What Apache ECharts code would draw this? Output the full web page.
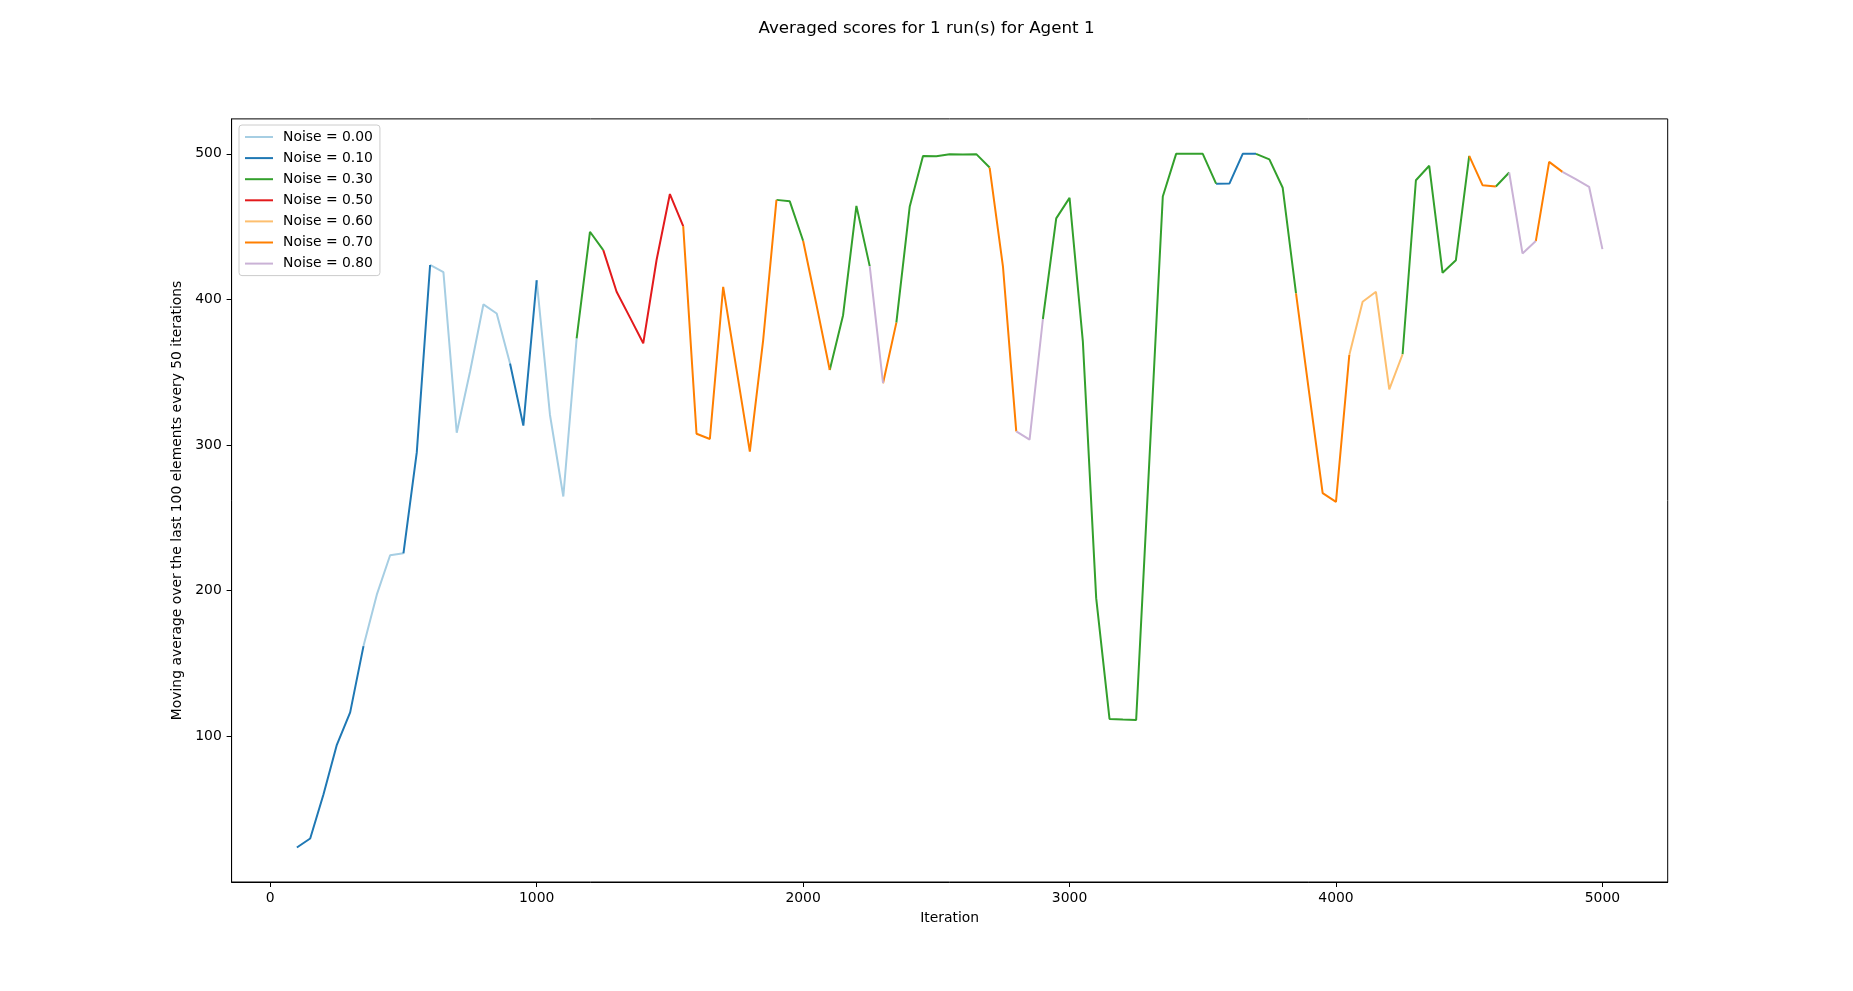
<!DOCTYPE html>
<html>
    <head>
        <meta charset="utf-8">
        <title>Averaged scores</title>
        <script src="https://cdn.jsdelivr.net/npm/echarts@6.0.0/dist/echarts.min.js"></script>
        <style>
            html, body { margin: 0; padding: 0; background: #fff; }
            #chart { width: 1853px; height: 991px; }
        </style>
    </head>
    <body>
        <div id="chart"></div>
        <script>
            // one point every 50 iterations
            var iterations = [100, 150, 200, 250, 300, 350, 400, 450, 500, 550,
                600, 650, 700, 750, 800, 850, 900, 950, 1000, 1050,
                1100, 1150, 1200, 1250, 1300, 1350, 1400, 1450, 1500, 1550,
                1600, 1650, 1700, 1750, 1800, 1850, 1900, 1950, 2000, 2050,
                2100, 2150, 2200, 2250, 2300, 2350, 2400, 2450, 2500, 2550,
                2600, 2650, 2700, 2750, 2800, 2850, 2900, 2950, 3000, 3050,
                3100, 3150, 3200, 3250, 3300, 3350, 3400, 3450, 3500, 3550,
                3600, 3650, 3700, 3750, 3800, 3850, 3900, 3950, 4000, 4050,
                4100, 4150, 4200, 4250, 4300, 4350, 4400, 4450, 4500, 4550,
                4600, 4650, 4700, 4750, 4800, 4850, 4900, 4950, 5000];

            var scores = [23.7, 29.9, 60.3, 94.2, 116.5, 162.0, 197.3, 224.4, 225.7, 295.0,
                423.7, 418.8, 308.5, 350.5, 396.6, 390.4, 356.0, 313.4, 413.2, 320.7,
                264.7, 373.3, 446.5, 433.9, 405.3, 387.7, 369.9, 427.1, 472.4, 450.4,
                307.8, 304.2, 408.7, 352.0, 295.5, 372.0, 468.4, 467.4, 440.3, 396.5,
                351.6, 389.2, 464.3, 422.9, 342.5, 384.1, 463.6, 498.6, 498.4, 499.8,
                499.6, 499.8, 490.6, 422.8, 309.4, 303.7, 386.6, 455.7, 469.8, 371.0,
                194.9, 112.0, 111.5, 111.2, 291.0, 470.7, 500.0, 500.0, 500.0, 479.5,
                479.6, 500.0, 500.0, 496.2, 476.7, 404.2, 335.0, 267.0, 261.0, 361.9,
                398.4, 405.3, 338.3, 362.4, 481.9, 491.8, 418.3, 427.0, 498.6, 478.5,
                477.6, 487.2, 431.6, 440.1, 494.5, 487.6, 482.6, 477.4, 434.6];

            // noise used on each segment (from iterations[i] to iterations[i+1])
            var segmentNoise = ['0.10', '0.10', '0.10', '0.10', '0.10', '0.00', '0.00', '0.00', '0.10', '0.10',
                '0.00', '0.00', '0.00', '0.00', '0.00', '0.00', '0.10', '0.10', '0.00', '0.00',
                '0.00', '0.30', '0.30', '0.50', '0.50', '0.50', '0.50', '0.50', '0.50', '0.70',
                '0.70', '0.70', '0.70', '0.70', '0.70', '0.70', '0.30', '0.30', '0.70', '0.70',
                '0.30', '0.30', '0.30', '0.80', '0.70', '0.30', '0.30', '0.30', '0.30', '0.30',
                '0.30', '0.30', '0.70', '0.70', '0.80', '0.80', '0.30', '0.30', '0.30', '0.30',
                '0.30', '0.30', '0.30', '0.30', '0.30', '0.30', '0.30', '0.30', '0.30', '0.10',
                '0.10', '0.10', '0.30', '0.30', '0.30', '0.70', '0.70', '0.70', '0.70', '0.60',
                '0.60', '0.60', '0.60', '0.30', '0.30', '0.30', '0.30', '0.30', '0.70', '0.70',
                '0.30', '0.80', '0.80', '0.70', '0.70', '0.80', '0.80', '0.80'];

            var noiseLevels = ['0.00', '0.10', '0.30', '0.50', '0.60', '0.70', '0.80'];
            var xTicks = [0, 1000, 2000, 3000, 4000, 5000];
            var yTicks = [100, 200, 300, 400, 500];

            var colors = ['#a6cee3', '#1f78b4', '#33a02c', '#e31a1c', '#fdbf6f', '#ff7f00', '#cab2d6'];

            function buildSeries() {
                return noiseLevels.map(function (lvl, k) {
                    var data = [];
                    var last = -2;
                    for (var i = 0; i < segmentNoise.length; i++) {
                        if (segmentNoise[i] !== lvl) continue;
                        if (i !== last + 1) {
                            if (data.length) data.push([iterations[i], '-']);
                            data.push([iterations[i], scores[i]]);
                        }
                        data.push([iterations[i + 1], scores[i + 1]]);
                        last = i;
                    }
                    return {
                        name: 'Noise = ' + lvl,
                        type: 'line',
                        data: data,
                        showSymbol: false,
                        connectNulls: false,
                        lineStyle: { width: 2, color: colors[k] },
                        itemStyle: { color: colors[k] }
                    };
                });
            }

            var option = {
                animation: false,
                textStyle: { fontFamily: 'DejaVu Sans', color: '#000' },
                title: {
                    text: 'Averaged scores for 1 run(s) for Agent 1',
                    left: 'center',
                    top: 20.5,
                    padding: 0,
                    textStyle: { fontFamily: 'DejaVu Sans', fontSize: 16.7, fontWeight: 'normal', color: '#000' }
                },
                legend: {
                    orient: 'vertical',
                    left: 239,
                    top: 125,
                    padding: [5, 7, 5, 6],
                    icon: 'rect',
                    itemWidth: 28,
                    itemHeight: 2,
                    itemGap: 7.1,
                    backgroundColor: 'rgba(255,255,255,0.8)',
                    borderColor: '#cccccc',
                    borderWidth: 1,
                    borderRadius: 3,
                    textStyle: { fontFamily: 'DejaVu Sans', fontSize: 13.9, lineHeight: 14, color: '#000', padding: [0, 0, 0, 5] },
                    data: noiseLevels.map(function (l) { return 'Noise = ' + l; })
                },
                grid: {
                    left: 231.6,
                    right: 185.3,
                    top: 118.9,
                    bottom: 109,
                    show: true,
                    borderColor: '#000',
                    borderWidth: 1,
                    containLabel: false
                },
                xAxis: {
                    type: 'value',
                    min: -145,
                    max: 5245,
                    name: 'Iteration',
                    nameLocation: 'middle',
                    nameGap: 29,
                    nameTextStyle: { fontSize: 13.9, color: '#000' },
                    axisLine: { show: true, onZero: false, lineStyle: { color: '#000', width: 1 } },
                    axisTick: { show: true, length: 5, lineStyle: { color: '#000' }, customValues: xTicks },
                    axisLabel: {
                        fontSize: 13.9, color: '#000', margin: 9.8, customValues: xTicks,
                        formatter: function (v) { return String(v); }
                    },
                    splitLine: { show: false }
                },
                yAxis: {
                    type: 'value',
                    min: 0,
                    max: 524,
                    name: 'Moving average over the last 100 elements every 50 iterations',
                    nameLocation: 'middle',
                    nameGap: 42,
                    nameTextStyle: { fontSize: 13.9, color: '#000' },
                    axisLine: { show: true, onZero: false, lineStyle: { color: '#000', width: 1 } },
                    axisTick: { show: true, length: 5, lineStyle: { color: '#000' }, customValues: yTicks },
                    axisLabel: {
                        fontSize: 13.9, color: '#000', margin: 9.8, customValues: yTicks,
                        formatter: function (v) { return String(v); }
                    },
                    splitLine: { show: false }
                },
                series: buildSeries()
            };

            var chart = echarts.init(document.getElementById('chart'));
            chart.setOption(option);
        </script>
    </body>
</html>
